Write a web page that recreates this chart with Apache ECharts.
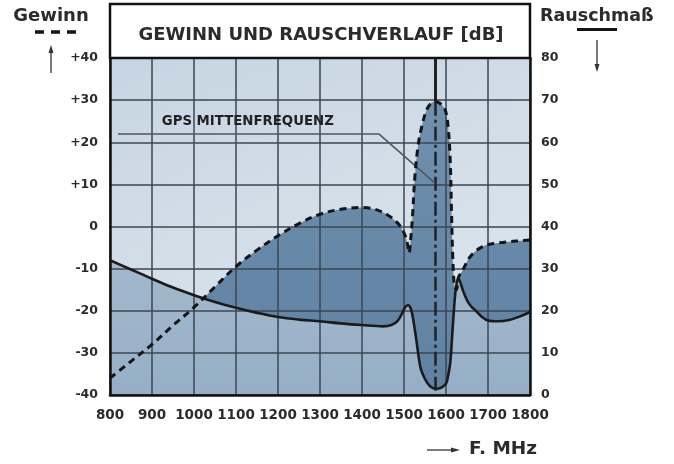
<!DOCTYPE html>
<html><head><meta charset="utf-8">
<script src="https://cdn.jsdelivr.net/npm/echarts@6/dist/echarts.min.js"></script>
<style>html,body{margin:0;padding:0;background:#fff}#c{width:674px;height:464px}</style>
</head><body><div id="c"></div>
<script>
// ---- data ----
const gainFreq   = [800, 850, 900, 950, 1000, 1050, 1100, 1150, 1200, 1250, 1300, 1350, 1400, 1430, 1460, 1485, 1500, 1508, 1512, 1516, 1520, 1526, 1534, 1543, 1554, 1565, 1575, 1586, 1598, 1605, 1610, 1613, 1616, 1620, 1625, 1630, 1640, 1655, 1670, 1685, 1700, 1725, 1750, 1775, 1800];
const gainValues = [-36, -32, -28, -23.5, -19.2, -14.3, -9.5, -5.6, -2.2, 0.7, 2.9, 4.1, 4.5, 4.1, 2.8, 0.8, -1.5, -4, -6.3, -3, 2, 12, 19.5, 24, 27.7, 29.3, 29.6, 29.2, 27.7, 23.7, 15.8, 4, -7, -14, -15, -12, -10.3, -7.5, -5.9, -4.9, -4.3, -3.9, -3.6, -3.4, -3.2];
const noiseFreq   = [800, 850, 900, 950, 1000, 1050, 1100, 1150, 1200, 1250, 1300, 1350, 1400, 1450, 1470, 1485, 1496, 1504, 1510, 1515, 1520, 1525, 1530, 1535, 1540, 1550, 1560, 1570, 1580, 1590, 1600, 1605, 1610, 1614, 1618, 1622, 1626, 1630, 1634, 1640, 1650, 1660, 1670, 1685, 1700, 1725, 1750, 1775, 1800];
const noiseValues = [32, 29.8, 27.6, 25.5, 23.7, 22.1, 20.7, 19.5, 18.5, 17.9, 17.5, 17, 16.6, 16.3, 16.6, 17.6, 19.5, 21, 21.3, 20.8, 19, 16, 12.6, 9, 6.2, 3.8, 2.3, 1.6, 1.5, 1.8, 2.7, 4.5, 7.5, 13, 19, 24, 26.8, 27.6, 26.8, 24.9, 22.5, 21, 20.1, 18.6, 17.7, 17.5, 17.8, 18.6, 19.7];
const gainTicks  = [-40, -30, -20, -10, 0, 10, 20, 30, 40];
const noiseTicks = [0, 10, 20, 30, 40, 50, 60, 70, 80];
const freqTicks  = [800, 900, 1000, 1100, 1200, 1300, 1400, 1500, 1600, 1700, 1800];
const CENTER_FREQ = 1575.42;
const GAIN_PEAK = 29.6;
const leaderPath = [[819, 22], [1440, 22], [1574, 10.3]];
const annotationPos = [1128, 24.8];

const TITLE = 'GEWINN UND RAUSCHVERLAUF [dB]';
const ANNOTATION = 'GPS MITTENFREQUENZ';

const gainData  = gainFreq.map((f, i) => [f, gainValues[i]]);
const noiseData = noiseFreq.map((f, i) => [f, noiseValues[i]]);

const FONT = '"DejaVu Sans", "Open Sans", sans-serif';
const TXT = '#2b2b2b';
const G = echarts.graphic;

const chart = echarts.init(document.getElementById('c'), null, {renderer: 'canvas'});
const labelStyle = {fontFamily: FONT, fontWeight: 'bold', fontSize: 12.5, color: TXT};

chart.setOption({
  animation: false,
  grid: {
    left: 110, right: 144, top: 58, bottom: 69, show: true, borderWidth: 0,
    backgroundColor: new G.LinearGradient(0, 0, 0.3, 1, [{offset: 0, color: '#c6d5e2'}, {offset: 1, color: '#dbe4ec'}])
  },
  xAxis: {
    type: 'value', min: freqTicks[0], max: freqTicks[freqTicks.length - 1], interval: 100, z: 3,
    axisLine: {show: true, onZero: false, lineStyle: {color: '#111', width: 2.5}},
    axisTick: {show: false},
    splitLine: {show: true, lineStyle: {color: '#3c4652', width: 1.5}},
    axisLabel: Object.assign({}, labelStyle, {margin: 13, fontSize: 13.5, formatter: v => String(v)})
  },
  yAxis: [{
    type: 'value', min: gainTicks[0], max: gainTicks[gainTicks.length - 1], interval: 10, z: 3,
    axisLine: {show: true, onZero: false, lineStyle: {color: '#111', width: 2.5}},
    axisTick: {show: false},
    splitLine: {show: true, lineStyle: {color: '#3c4652', width: 1.5}},
    axisLabel: Object.assign({margin: 12, formatter: v => v > 0 ? '+' + v : String(v)}, labelStyle)
  }, {
    type: 'value', min: noiseTicks[0], max: noiseTicks[noiseTicks.length - 1], interval: 10, z: 3,
    position: 'right',
    axisLine: {show: true, onZero: false, lineStyle: {color: '#111', width: 2.5}},
    axisTick: {show: false},
    splitLine: {show: false},
    axisLabel: Object.assign({margin: 11, formatter: v => String(v)}, labelStyle)
  }],
  series: [
    { // gain fill
      type: 'line', data: gainData, yAxisIndex: 0, smooth: 0.35, symbol: 'none', z: 1, silent: true,
      lineStyle: {width: 0},
      areaStyle: {origin: 'start', opacity: 1, color: new G.LinearGradient(0, 0, 0, 1, [{offset: 0, color: '#6f90ae'}, {offset: 1, color: '#5f82a3'}])}
    },
    { // noise fill
      type: 'line', data: noiseData, yAxisIndex: 1, smooth: 0.35, symbol: 'none', z: 2, silent: true,
      lineStyle: {width: 0},
      areaStyle: {origin: 'start', opacity: 1, color: new G.LinearGradient(0, 0, 0, 1, [{offset: 0, color: '#a2b8cc'}, {offset: 1, color: '#97afc6'}])}
    },
    { // noise line
      type: 'line', data: noiseData, yAxisIndex: 1, smooth: 0.35, symbol: 'none', z: 4, silent: true,
      lineStyle: {color: '#1c1a1a', width: 2.6}
    },
    { // gain line
      type: 'line', data: gainData, yAxisIndex: 0, smooth: 0.35, symbol: 'none', z: 5, silent: true,
      lineStyle: {color: '#151515', width: 3, type: [7, 5]},
      markLine: {
        silent: true, symbol: 'none', label: {show: false}, animation: false,
        data: [
          [{coord: [CENTER_FREQ, gainTicks[gainTicks.length - 1]], lineStyle: {color: '#222', width: 3, type: 'solid'}}, {coord: [CENTER_FREQ, GAIN_PEAK]}],
          [{coord: [CENTER_FREQ, GAIN_PEAK], lineStyle: {color: '#222', width: 2.5, type: [14, 4, 3, 4]}}, {coord: [CENTER_FREQ, gainTicks[0]]}],
          [{coord: leaderPath[0], lineStyle: {color: '#50565c', width: 1.6, type: 'solid'}}, {coord: leaderPath[1]}],
          [{coord: leaderPath[1], lineStyle: {color: '#50565c', width: 1.6, type: 'solid'}}, {coord: leaderPath[2]}]
        ]
      },
      markPoint: {
        silent: true, symbol: 'circle', symbolSize: 1, itemStyle: {color: 'rgba(0,0,0,0)'},
        label: {show: true, position: 'inside', formatter: ANNOTATION, fontFamily: FONT, fontWeight: 'bold', fontSize: 13.3, color: '#222'},
        data: [{coord: annotationPos}]
      }
    }
  ],
  graphic: [
    {type: 'rect', shape: {x: 110, y: 4, width: 420, height: 54}, style: {fill: '#fff', stroke: '#111', lineWidth: 2.5}, z: 10},
    {type: 'text', x: 321, y: 35, style: {text: TITLE, fill: TXT, font: 'bold 18px ' + FONT, textAlign: 'center', textVerticalAlign: 'middle'}, z: 11},
    // Gewinn legend
    {type: 'text', x: 51, y: 16, style: {text: 'Gewinn', fill: TXT, font: 'bold 18px ' + FONT, textAlign: 'center', textVerticalAlign: 'middle'}},
    {type: 'line', shape: {x1: 35, y1: 32, x2: 76, y2: 32}, style: {stroke: '#151515', lineWidth: 3.5, lineDash: [9, 7]}},
    {type: 'line', shape: {x1: 51, y1: 73, x2: 51, y2: 50}, style: {stroke: '#333', lineWidth: 1.3}},
    {type: 'polygon', shape: {points: [[51, 45], [48.5, 53], [53.5, 53]]}, style: {fill: '#333'}},
    // Rauschmass legend
    {type: 'text', x: 540, y: 16, style: {text: 'Rauschmaß', fill: TXT, font: 'bold 17.5px ' + FONT, textAlign: 'left', textVerticalAlign: 'middle'}},
    {type: 'line', shape: {x1: 577, y1: 29.5, x2: 617, y2: 29.5}, style: {stroke: '#151515', lineWidth: 3}},
    {type: 'line', shape: {x1: 597, y1: 40, x2: 597, y2: 64}, style: {stroke: '#333', lineWidth: 1.3}},
    {type: 'polygon', shape: {points: [[597, 72], [594.5, 64], [599.5, 64]]}, style: {fill: '#333'}},
    // frequency label
    {type: 'line', shape: {x1: 427, y1: 450, x2: 452, y2: 450}, style: {stroke: '#333', lineWidth: 1.3}},
    {type: 'polygon', shape: {points: [[460, 450], [451, 447.5], [451, 452.5]]}, style: {fill: '#333'}},
    {type: 'text', x: 469, y: 449, style: {text: 'F. MHz', fill: TXT, font: 'bold 18.5px ' + FONT, textAlign: 'left', textVerticalAlign: 'middle'}}
  ]
});
</script></body></html>
